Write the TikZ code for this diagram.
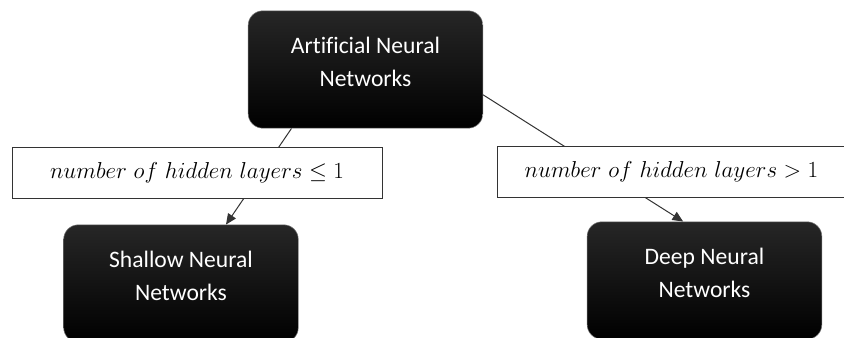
\documentclass[tikz,border=0pt]{standalone}
\usepackage{fontspec}
\newfontfamily\calibri[Ligatures=NoCommon]{Carlito}
\usetikzlibrary{arrows.meta,calc,positioning}
\pgfdeclarelayer{background}
\pgfsetlayers{background,main}

\begin{document}
\begin{tikzpicture}
  [
    x = 0.75pt,
    y = -0.75pt,
    net/.style = {
      draw = black!55,
      rounded corners = 11pt,
      top color = black!85,
      middle color = black,
      bottom color = black,
      text = white,
      font = \calibri\fontsize{17.7}{25}\selectfont,
      align = center,
      minimum width = 176pt,
      minimum height = 88pt,
      text depth = 12pt,
      inner sep = 0pt,
    },
    cond/.style = {
      draw = black!80,
      fill = white,
      minimum height = 38pt,
      inner sep = 0pt,
      font = \fontsize{17}{20}\selectfont,
    },
    link/.style = {
      black!80,
      line width = 0.75pt,
    },
    > = {Triangle[length=8pt,width=7pt]},
  ]

  \useasboundingbox (0,0) rectangle (844,338);

  \node (ann) [net] at (365.5, 69.5) {Artificial Neural\\Networks};
  \node (shallow) [net] at (181, 283.5) {Shallow Neural\\Networks};
  \node (deep) [net] at (704.5, 280.5) {Deep Neural\\Networks};

  \node (fewer) [cond, minimum width=277.5pt] at (197, 172.5)
    {$number\ of\ hidden\ layers \leq 1$};
  \node (more) [cond, minimum width=261pt] at (671.5, 171.5)
    {$number\ of\ hidden\ layers > 1$};

  \begin{pgfonlayer}{background}
    \draw [link,->] ([xshift=-55.5pt] ann.south) -- ([xshift=33.75pt] shallow.north);
    \draw [link,->] ([yshift=-19pt] ann.east) -- ([xshift=-16pt] deep.north);
  \end{pgfonlayer}

\end{tikzpicture}
\end{document}
